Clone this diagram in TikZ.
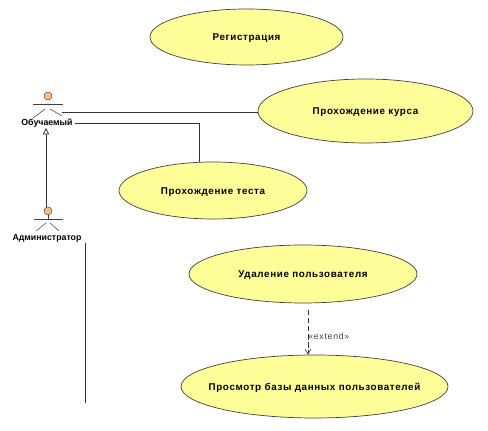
\documentclass[tikz,border=0pt]{standalone}
\usepackage{fontspec}
\setmainfont{Liberation Sans}
\newfontfamily\casefont[LetterSpace=6.4]{Liberation Sans}
\newfontfamily\tagfont[LetterSpace=8]{Liberation Sans}
\usetikzlibrary{arrows.meta, positioning, calc, shapes.geometric}

\begin{document}
\begin{tikzpicture}[
    x=0.02cm, y=-0.02cm,
    usecase/.style n args={2}{
        ellipse, draw=black!75, fill=ucyellow, line width=0.4pt,
        minimum width=#1*0.02cm, minimum height=#2*0.02cm,
        inner sep=0pt, text height=5.4pt, text depth=1pt,
        font=\casefont\fontsize{5.6pt}{6pt}\bfseries
    },
    head/.style={
        circle, draw=black!70, fill=actorskin, line width=0.3pt,
        minimum size=0.16cm, inner sep=0pt
    },
    actorname/.style={
        font=\fontsize{5pt}{6pt}\bfseries, inner sep=1pt
    },
    limb/.style={line width=0.3pt, draw=black!75},
    assoc/.style={line width=0.45pt, draw=black!80},
    inherit/.style={
        -{Triangle[open,length=1.3mm,width=1.3mm]}, line width=0.45pt, draw=black!80
    },
    depend/.style={
        -{Straight Barb[length=1mm,width=1.2mm]}, line width=0.35pt,
        draw=black!80, dash pattern=on 3pt off 1.6pt
    },
]

\definecolor{ucyellow}{RGB}{255,255,153}
\definecolor{actorskin}{RGB}{250,190,130}

\useasboundingbox (0,0) rectangle (488,431);

% ============================================================
% Use cases
% ============================================================

\node[usecase={193}{56}] (reg) at (246.5,37) {Регистрация};
\node[usecase={215}{64}] (course) at (365.5,111) {Прохождение курса};
\node[usecase={188}{57}] (test) at (213,190.5) {Прохождение теста};
\node[usecase={228}{58}] (del) at (303,274) {Удаление пользователя};
\node[usecase={267}{63}, inner xsep=-10pt] (view) at (314.5,386.5) {Просмотр базы данных пользователей};

% ============================================================
% Actors
% ============================================================

\node[head] (learner) at (48,96) {};
\node[actorname] (learnername) at (47,123) {Обучаемый};
\draw[limb] ($(learner)+(-15,8)$) -- ($(learner)+(15,8)$);
\draw[limb] ($(learner)+(-15,22)$) -- ($(learner)+(-3,13)$);
\draw[limb] ($(learner)+(2,13)$) -- ($(learner)+(14,20)$);

\node[head] (admin) at (48,211) {};
\node[actorname] (adminname) at (47,238) {Администратор};
\draw[limb] ($(admin)+(-14,8)$) -- ($(admin)+(15,8)$);
\draw[limb] ($(admin)+(-12,20)$) -- ($(admin)+(-2,12)$);
\draw[limb] ($(admin)+(2,12)$) -- ($(admin)+(11,20)$);
\draw[limb] (admin.south) -- ++(0,4);

% ============================================================
% Connectors
% ============================================================

\coordinate (learnerarm) at (62,112);
\coordinate (inheritend) at (46,128);
\coordinate (lifetop) at (85,243);
\coordinate (lifeend) at (85,403);
\coordinate (extendtop) at (308,310);

\draw[assoc] (learnerarm) -- (learnerarm -| course.west);
\draw[assoc] (learnername.east) -| (test.116);
\draw[inherit] (admin.north -| inheritend) -- (inheritend);
\draw[assoc] (lifetop) -- (lifeend);

\draw[depend] (extendtop) -- node[pos=0.6, right=-1pt, font=\tagfont\fontsize{5pt}{6pt}\selectfont, text=black!75, inner sep=1pt] (extendtag) {«extend»} (extendtop |- view.north);

\end{tikzpicture}
\end{document}
